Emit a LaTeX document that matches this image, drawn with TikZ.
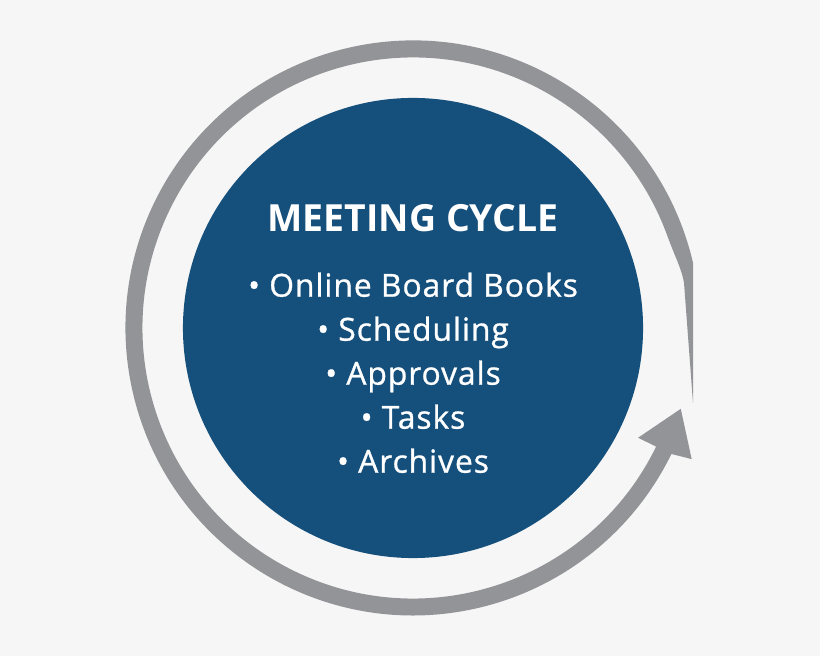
\documentclass[tikz,border=0pt]{standalone}
\usepackage{fontspec}
\setmainfont{Open Sans}
\newfontfamily\semibold[FakeBold=0.9,LetterSpace=3]{Open Sans}
\definecolor{cyclebg}{HTML}{F6F6F6}
\definecolor{cycleblue}{HTML}{154F7B}
\definecolor{cyclegray}{HTML}{939498}

\begin{document}
\begin{tikzpicture}[x=0.025cm,y=0.025cm,
    headline/.style={text=white,font=\bfseries\fontsize{26.6}{32}\selectfont,anchor=base},
    listline/.style={text=white,font=\semibold\fontsize{22.6}{26}\selectfont,anchor=base}]
            \useasboundingbox (0,0) rectangle (820,656);
            \fill[cyclebg] (0,0) rectangle (820,656);
            % the cycle arrow
            \begin{scope}[shift={(413,328)}]
            \fill[cyclegray] (280,-75) -- (280,65.2)
                arc[start angle=13.1,end angle=334,radius=287.5]
                -- (334.8:308) -- (343.2:279.7) -- (334:250.4) -- (334:270.5)
                arc[start angle=334,end angle=20,radius=270.5]
                .. controls (262.5,70) and (269,58) .. (271,45) -- cycle;
            \end{scope}
            \node[circle,fill=cycleblue,minimum size=11.5cm,inner sep=0pt] (disk) at (413,328) {};
            \node[headline] (heading) at (413,424.3) {MEETING CYCLE};
            \foreach \entry [count=\i] in {Online Board Books,Scheduling,Approvals,Tasks,Archives}
                \node[listline] (line\i) at (413,{359.3-44*(\i-1)}) {\textbullet\ \entry};
        \end{tikzpicture}
\end{document}
